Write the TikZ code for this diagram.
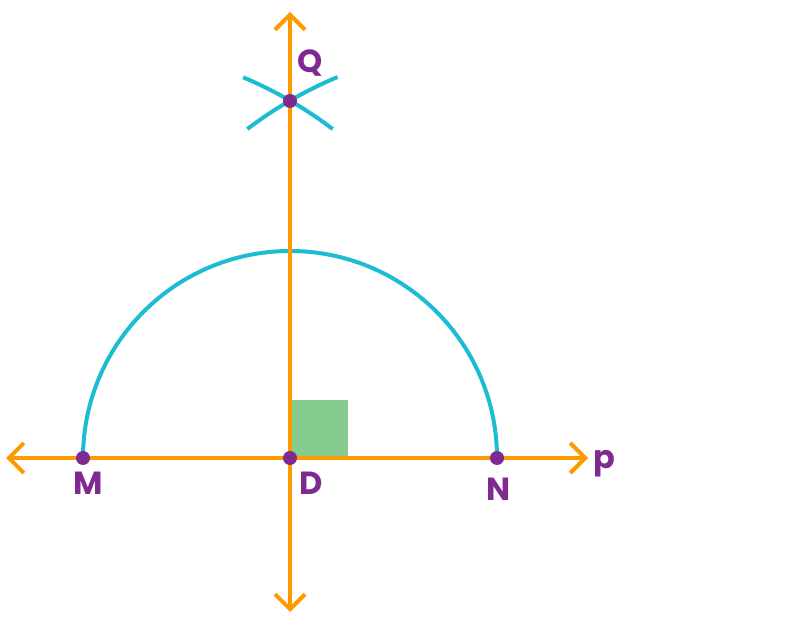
\documentclass[tikz,border=0pt]{standalone}
\usepackage{fontspec}
\setmainfont{Poppins}[BoldFont=Poppins Bold]
\usetikzlibrary{arrows.meta}
\definecolor{orng}{HTML}{FF9900}
\definecolor{cyn}{HTML}{1CBCD2}
\definecolor{purp}{HTML}{7F2A90}
\definecolor{grn}{HTML}{86CB90}
\tikzset{
  axis/.style={draw=orng, line width=4pt, arrows={Straight Barb[length=15pt,width=30pt,line width=4pt]-Straight Barb[length=15pt,width=30pt,line width=4pt]}},
  arcline/.style={draw=cyn, line width=4pt},
  pt/.style={circle, fill=purp, inner sep=0pt, minimum size=14pt},
  lbl/.style={text=purp, font=\fontsize{32}{36}\selectfont\bfseries, inner sep=0pt}
}
\begin{document}
\begin{tikzpicture}[x=1pt,y=1pt]
\useasboundingbox (0,0) rectangle (801,630);
\coordinate (L) at (6,172);
\coordinate (R) at (588,172);
\coordinate (T) at (290,618);
\coordinate (B) at (290,18);
\fill[grn] (292,172) rectangle (348,230);
\draw[arcline] (83,172) arc[start angle=180,end angle=0,radius=207];
\draw[arcline] (83,172) ++(52.8:413) arc[start angle=52.8,end angle=67.2,radius=413];
\draw[arcline] (497,172) ++(112.7:413) arc[start angle=112.7,end angle=127.2,radius=413];
\draw[axis] (L) -- (R);
\draw[axis] (B) -- (T);
\node[pt] (M) at (83,172) {};
\node[pt] (D) at (290,172) {};
\node[pt] (N) at (497,172) {};
\node[pt] (Q) at (290,529) {};
\node[lbl] (lQ) at (310,567) {Q};
\node[lbl] (lM) at (88,147) {M};
\node[lbl] (lD) at (311,147) {D};
\node[lbl] (lN) at (499,141) {N};
\node[lbl, anchor=base] (lp) at (604,161) {p};
\end{tikzpicture}
\end{document}
